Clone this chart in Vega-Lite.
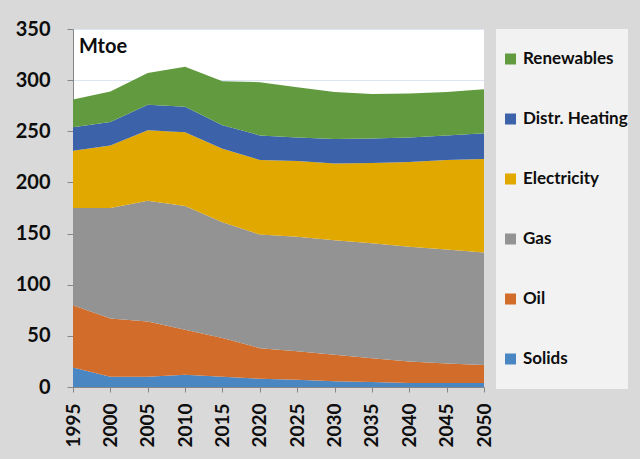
{
  "$schema": "https://vega.github.io/schema/vega-lite/v6.json",
  "autosize": {"type": "none"},
  "width": 411,
  "height": 358,
  "padding": {"left": 73, "top": 29, "right": 156, "bottom": 72},
  "background": "#d9d9d9",
  "config": {
    "font": "Lato",
    "view": {"fill": "#ffffff", "stroke": null},
    "axisX": {
      "labelAngle": -90,
      "labelFont": "Lato",
      "labelFontSize": 19,
      "labelFontWeight": "bold",
      "labelColor": "#0d0d0d",
      "labelPadding": 11,
      "tickSize": 5,
      "tickColor": "#868686",
      "domainColor": "#868686",
      "grid": false,
      "labelFlush": false,
      "labelOverlap": false
    },
    "axisY": {
      "labelFont": "Lato",
      "labelFontSize": 20,
      "labelFontWeight": "bold",
      "labelColor": "#0d0d0d",
      "labelPadding": 17,
      "tickSize": 6,
      "tickColor": "#868686",
      "domainColor": "#868686",
      "grid": true,
      "gridColor": "#dce6f2",
      "labelFlush": false
    }
  },
  "encoding": {
    "x": {
      "type": "quantitative",
      "scale": {"domain": [1995, 2050], "nice": false, "zero": false},
      "axis": {
        "title": null,
        "values": [1995, 2000, 2005, 2010, 2015, 2020, 2025, 2030, 2035, 2040, 2045, 2050],
        "format": "d"
      }
    },
    "y": {
      "type": "quantitative",
      "scale": {"domain": [0, 350], "nice": false},
      "axis": {
        "title": null,
        "values": [0, 50, 100, 150, 200, 250, 300, 350]
      }
    }
  },
  "layer": [
    {
      "data": {
        "values": [
          {"year": 1995, "source": "Solids", "value": 19},
          {"year": 1995, "source": "Oil", "value": 61},
          {"year": 1995, "source": "Gas", "value": 95},
          {"year": 1995, "source": "Electricity", "value": 56},
          {"year": 1995, "source": "Distr. Heating", "value": 23},
          {"year": 1995, "source": "Renewables", "value": 27},
          {"year": 2000, "source": "Solids", "value": 10},
          {"year": 2000, "source": "Oil", "value": 57},
          {"year": 2000, "source": "Gas", "value": 108},
          {"year": 2000, "source": "Electricity", "value": 61},
          {"year": 2000, "source": "Distr. Heating", "value": 23},
          {"year": 2000, "source": "Renewables", "value": 30},
          {"year": 2005, "source": "Solids", "value": 10},
          {"year": 2005, "source": "Oil", "value": 54},
          {"year": 2005, "source": "Gas", "value": 118},
          {"year": 2005, "source": "Electricity", "value": 69},
          {"year": 2005, "source": "Distr. Heating", "value": 25},
          {"year": 2005, "source": "Renewables", "value": 31},
          {"year": 2010, "source": "Solids", "value": 12},
          {"year": 2010, "source": "Oil", "value": 44},
          {"year": 2010, "source": "Gas", "value": 121},
          {"year": 2010, "source": "Electricity", "value": 72},
          {"year": 2010, "source": "Distr. Heating", "value": 25},
          {"year": 2010, "source": "Renewables", "value": 39},
          {"year": 2015, "source": "Solids", "value": 10},
          {"year": 2015, "source": "Oil", "value": 38},
          {"year": 2015, "source": "Gas", "value": 113},
          {"year": 2015, "source": "Electricity", "value": 72},
          {"year": 2015, "source": "Distr. Heating", "value": 23},
          {"year": 2015, "source": "Renewables", "value": 43},
          {"year": 2020, "source": "Solids", "value": 8},
          {"year": 2020, "source": "Oil", "value": 30},
          {"year": 2020, "source": "Gas", "value": 111},
          {"year": 2020, "source": "Electricity", "value": 73},
          {"year": 2020, "source": "Distr. Heating", "value": 24},
          {"year": 2020, "source": "Renewables", "value": 52},
          {"year": 2025, "source": "Solids", "value": 7},
          {"year": 2025, "source": "Oil", "value": 28},
          {"year": 2025, "source": "Gas", "value": 112},
          {"year": 2025, "source": "Electricity", "value": 74},
          {"year": 2025, "source": "Distr. Heating", "value": 23},
          {"year": 2025, "source": "Renewables", "value": 49},
          {"year": 2030, "source": "Solids", "value": 5.5},
          {"year": 2030, "source": "Oil", "value": 26},
          {"year": 2030, "source": "Gas", "value": 112},
          {"year": 2030, "source": "Electricity", "value": 75},
          {"year": 2030, "source": "Distr. Heating", "value": 24},
          {"year": 2030, "source": "Renewables", "value": 46},
          {"year": 2035, "source": "Solids", "value": 5},
          {"year": 2035, "source": "Oil", "value": 23},
          {"year": 2035, "source": "Gas", "value": 112.5},
          {"year": 2035, "source": "Electricity", "value": 78.5},
          {"year": 2035, "source": "Distr. Heating", "value": 24},
          {"year": 2035, "source": "Renewables", "value": 43.5},
          {"year": 2040, "source": "Solids", "value": 4},
          {"year": 2040, "source": "Oil", "value": 21},
          {"year": 2040, "source": "Gas", "value": 112},
          {"year": 2040, "source": "Electricity", "value": 83},
          {"year": 2040, "source": "Distr. Heating", "value": 24},
          {"year": 2040, "source": "Renewables", "value": 43},
          {"year": 2045, "source": "Solids", "value": 4},
          {"year": 2045, "source": "Oil", "value": 19},
          {"year": 2045, "source": "Gas", "value": 111.5},
          {"year": 2045, "source": "Electricity", "value": 87.5},
          {"year": 2045, "source": "Distr. Heating", "value": 24},
          {"year": 2045, "source": "Renewables", "value": 42.5},
          {"year": 2050, "source": "Solids", "value": 4},
          {"year": 2050, "source": "Oil", "value": 17.5},
          {"year": 2050, "source": "Gas", "value": 110},
          {"year": 2050, "source": "Electricity", "value": 91.5},
          {"year": 2050, "source": "Distr. Heating", "value": 25},
          {"year": 2050, "source": "Renewables", "value": 43}
        ]
      },
      "transform": [
        {"calculate": "indexof(['Solids','Oil','Gas','Electricity','Distr. Heating','Renewables'], datum.source)", "as": "stackOrder"}
      ],
      "mark": {"type": "area", "opacity": 1},
      "encoding": {
        "x": {"field": "year", "type": "quantitative"},
        "y": {"field": "value", "type": "quantitative", "stack": "zero"},
        "color": {
          "field": "source",
          "type": "nominal",
          "scale": {
            "domain": ["Renewables", "Distr. Heating", "Electricity", "Gas", "Oil", "Solids"],
            "range": ["#629b3f", "#3c63aa", "#e1a800", "#939393", "#d26c2a", "#4a87c2"]
          },
          "legend": {
            "title": null,
            "orient": "none",
            "legendX": 423,
            "legendY": 0,
            "padding": 0,
            "symbolOffset": 6,
            "clipHeight": 60,
            "rowPadding": 0,
            "fillColor": "#f2f2f2",
            "symbolType": "square",
            "symbolSize": 121,
            "symbolStrokeWidth": 0,
            "symbolOpacity": 1,
            "labelFont": "Lato",
            "labelFontSize": 17,
            "labelFontWeight": "bold",
            "labelColor": "#0d0d0d",
            "labelOffset": 4,
            "labelExpr": "datum.label + '\u00a0'"
          }
        },
        "order": {"field": "stackOrder", "type": "quantitative", "sort": "ascending"}
      }
    },
    {
      "data": {"values": [{"unit": "Mtoe"}]},
      "mark": {
        "type": "text",
        "font": "Lato",
        "fontSize": 20,
        "fontWeight": "bold",
        "color": "#0d0d0d",
        "align": "left",
        "baseline": "alphabetic",
        "dx": 6,
        "dy": 24
      },
      "encoding": {
        "x": {"datum": 1995, "type": "quantitative"},
        "y": {"datum": 350, "type": "quantitative"},
        "text": {"field": "unit"}
      }
    }
  ]
}
